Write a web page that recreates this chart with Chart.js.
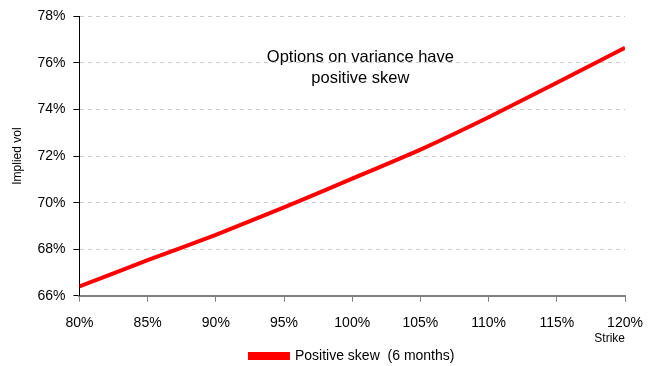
<!DOCTYPE html>
<html>
<head>
<meta charset="utf-8">
<script src="https://cdn.jsdelivr.net/npm/chart.js@4"></script>
<style>
  html, body { margin: 0; padding: 0; background: #fff; }
  #wrap { width: 658px; height: 366px; }
</style>
</head>
<body>
<div id="wrap"><canvas id="chart" width="658" height="366"></canvas></div>
<script>
// Strike levels (%) and implied vol (%)
const strikes = [80, 85, 90, 95, 100, 105, 110, 115, 120];
const impliedVol = [66.4, 67.53, 68.62, 69.8, 71.03, 72.28, 73.67, 75.15, 76.65];
const seriesLabel = 'Positive skew  (6 months)';
const noteLines = ['Options on variance have', 'positive skew'];

const FONT = 'Liberation Sans, Arial, sans-serif';

// Draw the text note in the middle of the plot
const notePlugin = {
  id: 'note',
  afterDraw(chart) {
    const ctx = chart.ctx;
    const x = chart.scales.x.getPixelForValue(100.6);
    const y = chart.scales.y.getPixelForValue(76.23);
    ctx.save();
    ctx.font = '16.5px ' + FONT;
    ctx.fillStyle = '#000';
    ctx.textAlign = 'center';
    ctx.textBaseline = 'middle';
    ctx.fillText(noteLines[0], x, y);
    ctx.fillText(noteLines[1], x, y + 21);
    ctx.restore();
  }
};

// Centre the legend under the plot area and nudge it down a little
const legendCentre = {
  id: 'legendCentre',
  afterLayout(chart) {
    const lg = chart.legend;
    const ca = chart.chartArea;
    if (!lg || !ca) return;
    lg.left = ca.left;
    lg.right = ca.right;
    lg.width = ca.right - ca.left;
    lg.top += 3;
    lg.bottom += 3;
  }
};

new Chart(document.getElementById('chart'), {
  type: 'line',
  data: {
    datasets: [{
      label: seriesLabel,
      data: strikes.map((s, i) => ({ x: s, y: impliedVol[i] })),
      borderColor: '#ff0000',
      backgroundColor: '#ff0000',
      borderWidth: 4,
      pointRadius: 0,
      tension: 0.2
    }]
  },
  options: {
    responsive: false,
    animation: false,
    layout: { padding: { top: 4, right: 33, left: 10, bottom: -4 } },
    plugins: {
      legend: {
        position: 'bottom',
        labels: {
          font: { family: FONT, size: 14 },
          color: '#000',
          boxWidth: 38,
          boxHeight: 4,
          padding: 0
        }
      },
      tooltip: { enabled: false }
    },
    scales: {
      x: {
        type: 'linear',
        min: 80,
        max: 120,
        ticks: {
          stepSize: 5,
          color: '#000',
          font: { family: FONT, size: 14 },
          maxRotation: 0,
          padding: 13,
          callback: v => v + '%'
        },
        grid: { drawOnChartArea: false, tickLength: 6, tickColor: '#808080' },
        border: { color: '#808080', width: 2 },
        title: {
          display: true,
          text: 'Strike',
          align: 'end',
          color: '#000',
          font: { family: FONT, size: 12 },
          padding: { top: -13, bottom: 0 }
        }
      },
      y: {
        min: 66,
        max: 78,
        ticks: {
          stepSize: 2,
          color: '#000',
          font: { family: FONT, size: 14 },
          padding: 8,
          callback: v => v + '%'
        },
        grid: { color: '#c8c8c8', tickColor: '#000', tickLength: 6 },
        border: { color: '#000', width: 1, dash: [4, 4] },
        title: {
          display: true,
          text: 'Implied vol',
          color: '#000',
          font: { family: FONT, size: 12 },
          padding: { top: 0, bottom: 5 }
        }
      }
    }
  },
  plugins: [notePlugin, legendCentre]
});
</script>
</body>
</html>
